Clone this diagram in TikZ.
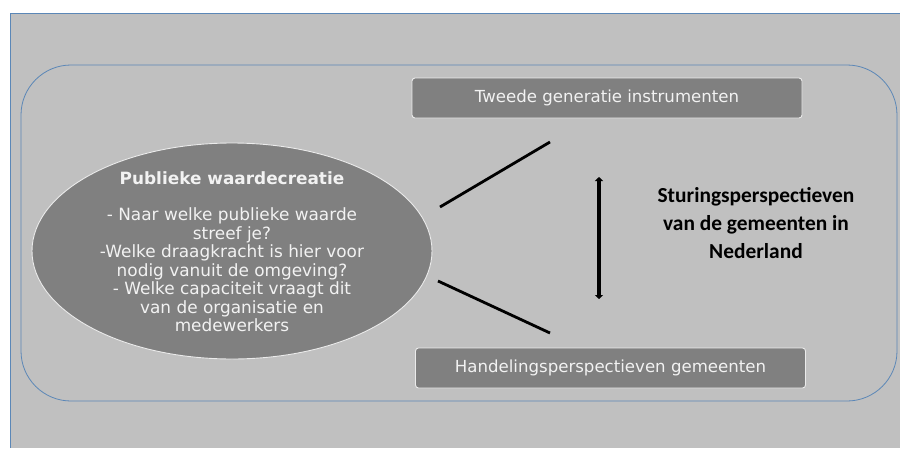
\documentclass[tikz,border=0pt]{standalone}
\usepackage{fontspec}
\setmainfont{DejaVu Sans}
\newfontfamily\calib{Carlito}
\usetikzlibrary{arrows.meta,shapes.geometric}
\definecolor{bgray}{HTML}{C0C0C0}
\definecolor{dgray}{HTML}{808080}
\definecolor{frameblue}{HTML}{5B87B7}
\tikzset{
  greybox/.style={draw=white!92!black, fill=dgray, rounded corners=3pt, line width=0.9pt,
    minimum width=390pt, minimum height=40pt, text=white!95!black, font=\fontsize{16.6}{18}\selectfont, inner sep=0pt},
  link/.style={line width=2.8pt, black}
}
\begin{document}
\begin{tikzpicture}[x=1pt,y=-1pt]
\useasboundingbox (0,0) rectangle (900,448);
\fill[white] (0,0) rectangle (900,448);
% outer panel
\fill[bgray] (10,13) rectangle (900,448);
\draw[frameblue, line width=0.8pt] (10,448) -- (10,13) -- (900,13);
% inner rounded frame
\draw[frameblue, line width=0.8pt, rounded corners=50pt] (21,65) rectangle (897,401);
% ellipse
\node[draw=white!92!black, fill=dgray, ellipse, line width=0.9pt, minimum width=400pt, minimum height=216pt, inner sep=0pt] (pw) at (232,251) {};
\node[text=white!95!black, font=\fontsize{16.9}{18}\selectfont\bfseries] (pwt) at (232,178) {Publieke waardecreatie};
\node[text=white!95!black, align=center, font=\fontsize{16.9}{18.5}\selectfont] (pwq) at (232,270) {- Naar welke publieke waarde\\streef je?\\-Welke draagkracht is hier voor\\nodig vanuit de omgeving?\\- Welke capaciteit vraagt dit\\van de organisatie en\\medewerkers};
% boxes
\node[greybox] (tg) at (607,98) {Tweede generatie instrumenten};
\node[greybox] (hp) at (610.5,368) {Handelingsperspectieven gemeenten};
% connectors
\coordinate (a1) at (440,207);
\coordinate (a2) at (550,142);
\coordinate (b1) at (438,281);
\coordinate (b2) at (550,333);
\draw[link] (a1) -- (a2);
\draw[link] (b1) -- (b2);
\coordinate (u) at (599,177);
\coordinate (d) at (599,299);
\draw[line width=3.8pt, {Triangle[length=4pt,width=8pt]}-{Triangle[length=4pt,width=8pt]}] (u) -- (d);
% label
\node[align=center, font=\calib\bfseries\fontsize{21.4}{28}\selectfont] (sp) at (756,223) {Sturingsperspectieven\\van de gemeenten in\\Nederland};
\end{tikzpicture}
\end{document}
